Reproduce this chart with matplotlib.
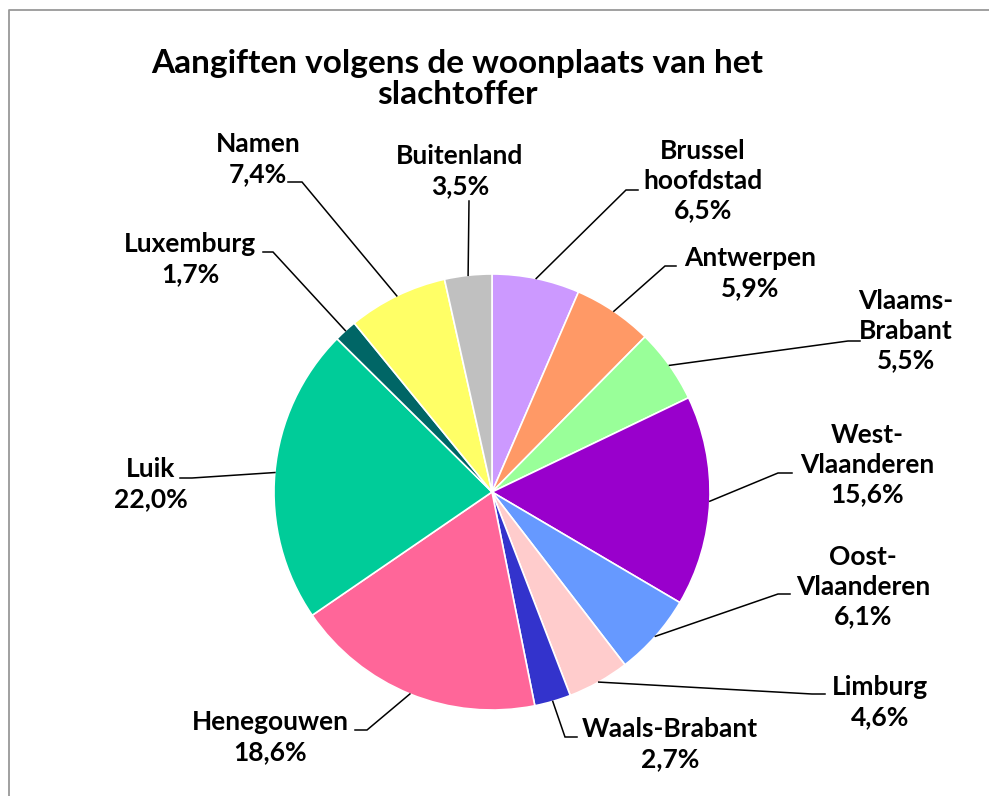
import numpy as np
import matplotlib
matplotlib.use("Agg")
import matplotlib.pyplot as plt

# -------------------------
# Data (clockwise from 12 o'clock)
# -------------------------
regions = ["Brussel\nhoofdstad", "Antwerpen", "Vlaams-\nBrabant", "West-\nVlaanderen",
           "Oost-\nVlaanderen", "Limburg", "Waals-Brabant", "Henegouwen", "Luik",
           "Luxemburg", "Namen", "Buitenland"]
shares = [6.5, 5.9, 5.5, 15.6, 6.1, 4.6, 2.7, 18.6, 22.0, 1.7, 7.4, 3.5]
colors = ["#CC99FF", "#FF9966", "#99FF99", "#9900CC", "#6699FF", "#FFCCCC",
          "#3333CC", "#FF6699", "#00CC99", "#006666", "#FFFF66", "#C0C0C0"]

# label layout in pixels: text centre, elbow of leader, end of leader at text
label_xy = [(703, 181), (750, 273), (906, 331), (867, 465), (863, 587), (880, 702),
            (670, 744), (270, 737), (151, 484), (190, 259), (258, 159), (460, 171)]
elbow_xy = [(626, 190), (665, 266), (848, 341), (778, 473), (778, 594), (812, 694),
            (565, 737), (367, 730), (192, 478), (273, 252), (302, 182), (469, 201)]
end_xy = [(638, 190), (676, 266), (860, 341), (792, 473), (790, 594), (825, 694),
          (577, 737), (355, 730), (180, 478), (263, 252), (288, 182), (469, 201)]

W, H = 989, 796
cx, cy, R = 492, 492, 218

plt.rcParams['font.family'] = ['Lato', 'DejaVu Sans']

fig = plt.figure(figsize=(W / 100, H / 100), dpi=100)
ax = fig.add_axes([0, 0, 1, 1])

wedges, _ = ax.pie(shares, colors=colors, startangle=90, counterclock=False,
                   center=(cx, H - cy), radius=R,
                   wedgeprops=dict(edgecolor="white", linewidth=1.2))
ax.set_xlim(0, W)
ax.set_ylim(0, H)
ax.set_aspect("equal")
ax.axis("off")

def fy(y):
    return H - y

for w, name, val, (tx, ty), (ex, ey), (sx, sy) in zip(
        wedges, regions, shares, label_xy, elbow_xy, end_xy):
    mid = np.deg2rad((w.theta1 + w.theta2) / 2)
    px = cx + R * np.cos(mid)
    py = (H - cy) + R * np.sin(mid)
    ax.plot([px, ex, sx], [py, fy(ey), fy(sy)], color="black", lw=1.1,
            solid_joinstyle="miter")
    txt = f"{name}\n{val:.1f}%".replace(".", ",")
    ax.text(tx, fy(ty), txt, ha="center", va="center", fontsize=19,
            fontweight="bold", linespacing=1.28, color="black")

ax.text(457, fy(79), "Aangiften volgens de woonplaats van het\nslachtoffer",
        ha="center", va="center", fontsize=24, fontweight="bold",
        linespacing=1.08)

# chart area border (only left and top visible)
ax.plot([8.5, 8.5, W], [0, fy(9.5), fy(9.5)], color="#999999", lw=1.3,
        clip_on=False)

fig.savefig("out.png", dpi=100)
